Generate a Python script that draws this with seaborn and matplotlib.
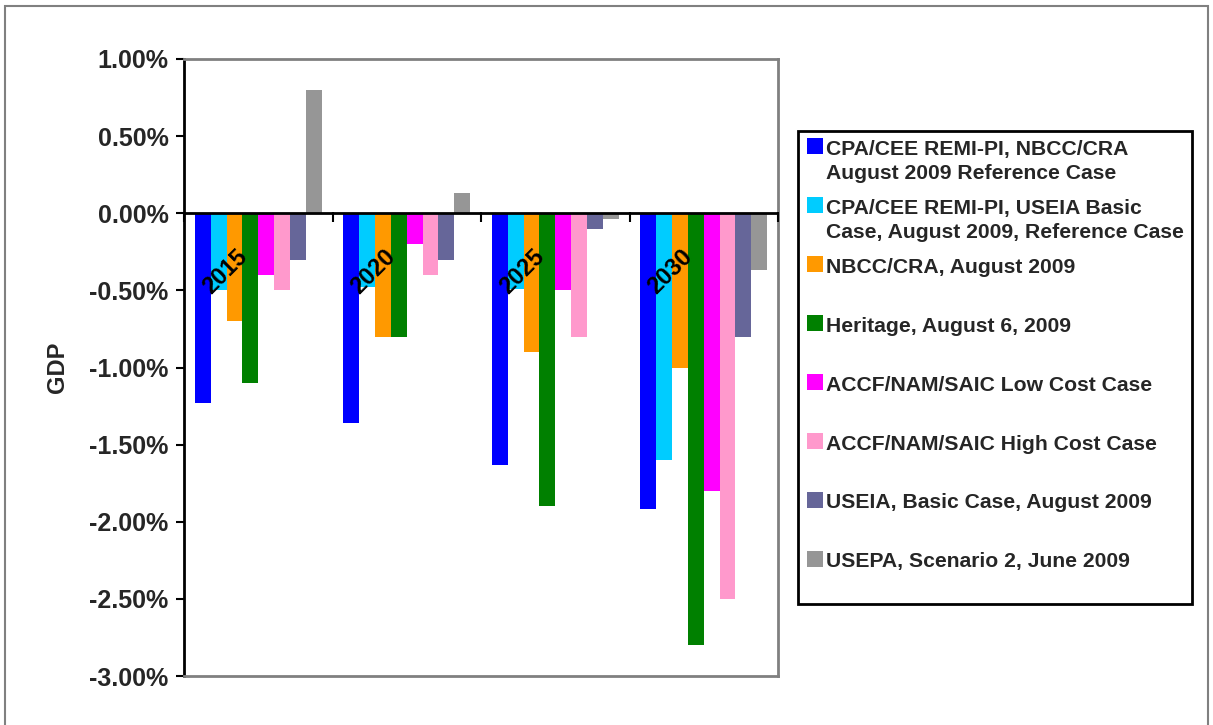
import matplotlib
matplotlib.use("Agg")
import matplotlib.pyplot as plt
import numpy as np
import pandas as pd
import seaborn as sns
from matplotlib.patches import Rectangle
from matplotlib.legend_handler import HandlerPatch
from matplotlib.ticker import FuncFormatter, MultipleLocator

# GDP change (%) by study, per year
years = ["2015", "2020", "2025", "2030"]
series_labels = [
    "CPA/CEE REMI-PI, NBCC/CRA\nAugust 2009 Reference Case",
    "CPA/CEE REMI-PI, USEIA Basic\nCase, August 2009, Reference Case",
    "NBCC/CRA, August 2009",
    "Heritage, August 6, 2009",
    "ACCF/NAM/SAIC Low Cost Case",
    "ACCF/NAM/SAIC High Cost Case",
    "USEIA, Basic Case, August 2009",
    "USEPA, Scenario 2, June 2009",
]
cpa_nbcc = [-1.23, -1.36, -1.63, -1.92]
cpa_useia = [-0.50, -0.48, -0.49, -1.60]
nbcc = [-0.70, -0.80, -0.90, -1.00]
heritage = [-1.10, -0.80, -1.90, -2.80]
accf_low = [-0.40, -0.20, -0.50, -1.80]
accf_high = [-0.50, -0.40, -0.80, -2.50]
useia = [-0.30, -0.30, -0.10, -0.80]
usepa = [0.80, 0.13, -0.04, -0.37]
colors = ["#0000FF", "#00CCFF", "#FF9900", "#008000",
          "#FF00FF", "#FF99CC", "#666699", "#969696"]

all_series = [cpa_nbcc, cpa_useia, nbcc, heritage, accf_low, accf_high, useia, usepa]
rows = []
for label, vals in zip(series_labels, all_series):
    for yr, v in zip(years, vals):
        rows.append({"year": yr, "series": label, "gdp": v})
df = pd.DataFrame(rows)

sns.set_theme(style="white")
plt.rcParams["font.family"] = ["Liberation Sans", "DejaVu Sans"]
plt.rcParams["font.weight"] = "bold"
plt.rcParams["axes.labelweight"] = "bold"

W, H = 1213, 725
fig = plt.figure(figsize=(W / 100, H / 100), dpi=100)
fig.patch.set_facecolor("white")

# outer chart frame
fig.patches.append(Rectangle((5 / W, -0.05), (1208 - 5) / W, (H - 6) / H + 0.05,
                             transform=fig.transFigure, fill=False,
                             edgecolor="#808080", lw=1.5, clip_on=False))

left, right, top, bottom = 184, 778, 59, 676
ax = fig.add_axes([left / W, 1 - bottom / H, (right - left) / W, (bottom - top) / H])

sns.barplot(data=df, x="year", y="gdp", hue="series", hue_order=series_labels,
            order=years, palette=colors, saturation=1, width=0.855, gap=0,
            errorbar=None, linewidth=0, legend=False, ax=ax)

ax.set_ylim(-3.0, 1.0)
ax.set_xlim(-0.5, len(years) - 0.5)
ax.yaxis.set_major_locator(MultipleLocator(0.5))
ax.yaxis.set_major_formatter(FuncFormatter(lambda v, p: f"{v:.2f}%"))
ax.tick_params(axis="y", direction="out", length=6, width=1.5, color="black",
               left=True, labelsize=18, pad=5)
ax.tick_params(axis="x", bottom=False, labelbottom=False)
for lbl in ax.get_yticklabels():
    lbl.set_fontweight("bold")
ax.set_xlabel("")
ax.set_ylabel("GDP")
ax.yaxis.label.set_fontsize(17)
ax.yaxis.label.set_fontweight("bold")
ax.yaxis.set_label_coords(-0.193, 0.5)

for side in ["top", "right", "bottom"]:
    ax.spines[side].set_color("#808080")
    ax.spines[side].set_linewidth(2)
ax.spines["left"].set_color("black")
ax.spines["left"].set_linewidth(2)

# category axis at zero with boundary ticks
ax.axhline(0, color="black", lw=2, zorder=4)
bounds = np.arange(len(years) + 1) - 0.5
ax.vlines(bounds, -0.055, 0.005, color="black", lw=1.5, zorder=4, clip_on=False)

# rotated year labels next to the zero axis
for i, yr in enumerate(years):
    ax.text(i - 0.225, -0.38, yr, rotation=45, ha="center", va="center",
            fontsize=17, fontweight="bold", color="black", zorder=5)


class TopSquare(HandlerPatch):
    def create_artists(self, legend, orig_handle, xdescent, ydescent,
                       width, height, fontsize, trans):
        size = 0.77 * fontsize
        step = 1.19 * fontsize
        p = Rectangle((-xdescent, step - 0.5 * fontsize), size, size,
                      facecolor=orig_handle.get_facecolor(), edgecolor="none",
                      transform=trans)
        return [p]


handles = [Rectangle((0, 0), 1, 1, facecolor=c) for c in colors]
labels = [s if "\n" in s else s + "\n" for s in series_labels]
leg = fig.legend(handles, labels, loc="upper left",
                 bbox_to_anchor=(798 / W, 1 - 131 / H), borderaxespad=0,
                 prop={"size": 15.2, "weight": "bold"}, frameon=True,
                 fancybox=False, framealpha=1, edgecolor="black",
                 handlelength=0.77, handleheight=2.0, handletextpad=0.12,
                 labelspacing=0.75, borderpad=0.42,
                 handler_map={Rectangle: TopSquare()})
leg.get_frame().set_linewidth(2)
for t in leg.get_texts():
    t.set_linespacing(1.34)

fig.savefig("out.png", dpi=100)
